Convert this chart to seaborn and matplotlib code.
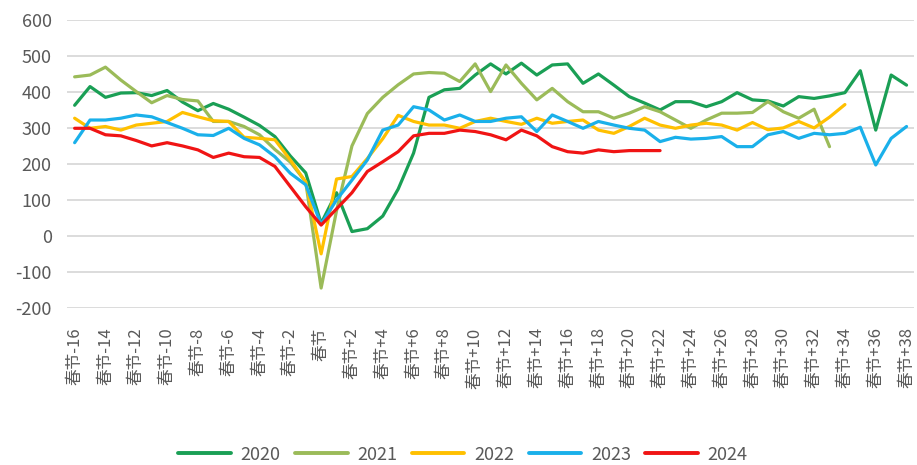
# -*- coding: utf-8 -*-
import numpy as np
import pandas as pd
import matplotlib
matplotlib.use('Agg')
import matplotlib.pyplot as plt
import seaborn as sns

sns.set_theme(style='white')
# 한자 라벨 때문에 CJK 폰트 사용
plt.rcParams['font.family'] = ['Noto Sans CJK SC', 'DejaVu Sans']
plt.rcParams['axes.unicode_minus'] = False

#%% 데이터 (춘절 기준 주차)
categories = ['春节-%d' % k for k in range(16, 0, -1)] + ['春节'] + ['春节+%d' % k for k in range(1, 39)]
years = ['2020', '2021', '2022', '2023', '2024']
nan = np.nan

v2020 = [363, 415, 385, 397, 398, 390, 404, 372, 348, 368, 352, 330, 307, 276, 222, 175, 35,
         120, 12, 20, 55, 130, 230,
         385, 406, 410, 447, 478, 450, 480, 447, 475, 478, 424, 450,
         419, 387, 369, 350, 373, 373, 359, 373, 398, 378, 375, 361, 387, 382, 389, 398, 459, 294, 447, 419]
v2021 = [442, 447, 469, 433, 401, 370, 390, 379, 375, 318, 318, 304, 281, 240, 205, 150, -145,
         70, 250, 340, 385, 420, 450, 454, 452, 429, 478, 401, 475, 424,
         378, 410, 373, 345, 345, 327, 341, 359, 345, 322, 299, 322, 341, 341, 343, 373, 345, 327, 352, 248,
         nan, nan, nan, nan, nan]
v2022 = [327, 299, 304, 294, 308, 313, 318, 343, 331, 320, 318, 274, 271, 267, 211, 150, -50,
         158, 165, 215, 270, 335, 318, 308, 308, 299, 318, 327, 318, 310,
         327, 313, 318, 322, 294, 285, 304, 327, 308, 299, 308, 313, 308, 294, 315, 295, 300, 318, 300, 330, 365,
         nan, nan, nan, nan]
v2023 = [259, 322, 322, 327, 336, 331, 315, 299, 281, 279, 299, 271, 253, 220, 174, 142, 32,
         100, 155, 211, 294, 308, 359, 350, 322, 336, 318, 318, 327, 331,
         290, 336, 318, 299, 318, 308, 299, 294, 262, 274, 269, 271, 276, 248, 248, 281, 290, 271, 285, 281,
         285, 302, 197, 271, 304]
v2024 = [299, 299, 281, 278, 265, 250, 259, 250, 239, 218, 230, 220, 218, 193, 137, 81, 30,
         75, 120, 179, 206, 234, 278, 285, 285, 294, 290, 281, 267, 294, 278, 248, 234, 230, 239, 234, 237, 237, 237,
         nan, nan, nan, nan, nan, nan, nan, nan, nan, nan, nan, nan, nan, nan, nan, nan]

colors = ['#1a9f55', '#9bbb59', '#ffc000', '#1ab0ea', '#f01414']

# long format 로 변환
pos = np.arange(len(categories))
frames = []
for yr, vals in zip(years, [v2020, v2021, v2022, v2023, v2024]):
    frames.append(pd.DataFrame({'pos': pos, '值': vals, '年份': yr}))
df = pd.concat(frames).dropna()

#%% 그래프
fig, ax = plt.subplots(figsize=(9.17, 4.65), dpi=100)
fig.subplots_adjust(left=0.073, right=0.997, top=0.957, bottom=0.338)

sns.lineplot(data=df, x='pos', y='值', hue='年份', hue_order=years,
             palette=dict(zip(years, colors)), linewidth=2.3, errorbar=None, ax=ax)

ax.set_xlim(-0.5, len(categories) - 0.5)
ax.set_ylim(-200, 600)
ax.set_yticks(range(-200, 601, 100))
ax.set_xticks(pos[::2])
ax.set_xticklabels(categories[::2], rotation=90)
ax.set_xlabel('')
ax.set_ylabel('')

ax.yaxis.grid(True, color='#d9d9d9', linewidth=1.3)
ax.xaxis.grid(False)
ax.set_axisbelow(True)
sns.despine(ax=ax, left=True, bottom=True)
ax.tick_params(axis='y', length=0, pad=11, labelsize=13, labelcolor='#595959')
ax.tick_params(axis='x', length=0, pad=14, labelsize=12, labelcolor='#595959')

# 범례 (아래쪽 가운데)
handles, labels = ax.get_legend_handles_labels()
ax.get_legend().remove()
leg = fig.legend(handles, labels, loc='center', bbox_to_anchor=(0.505, 0.022), ncol=5,
                 frameon=False, fontsize=13, handlelength=2.9, handletextpad=0.55,
                 columnspacing=0.8, labelcolor='#595959')
for line in leg.get_lines():
    line.set_linewidth(2.8)

plt.savefig('out.png', dpi=100)
